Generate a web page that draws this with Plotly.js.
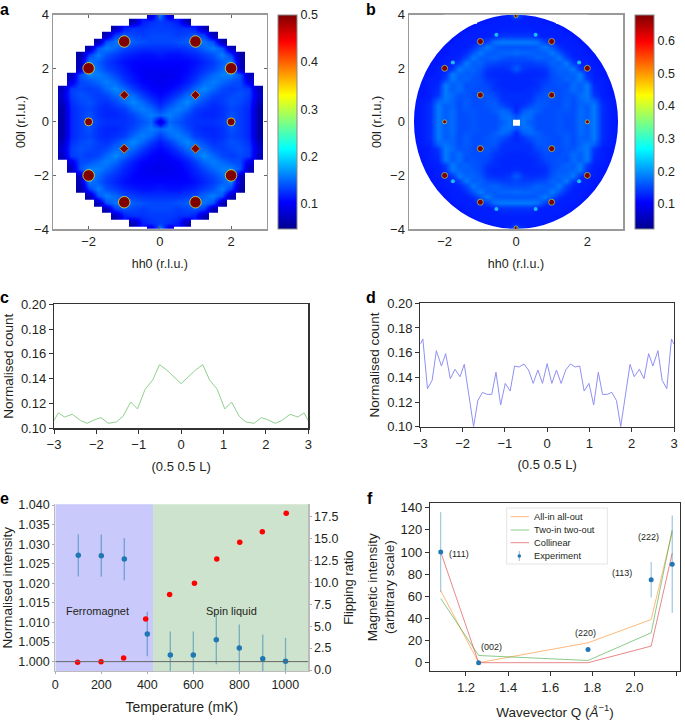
<!DOCTYPE html>
<html>
<head>
<meta charset="utf-8">
<script src="https://cdn.plot.ly/plotly-3.0.1.min.js"></script>
<style>
  html, body { margin: 0; padding: 0; background: #fff; }
  #chart { width: 685px; height: 720px; }
</style>
</head>
<body>
<div id="chart"></div>
<script>
const n = null;

// panel a: upper right quadrant, rows are 00l = 0 .. 4, columns are hh0 = 0 .. 3, step 0.25
const gridAH = [0, 0.25, 0.5, 0.75, 1, 1.25, 1.5, 1.75, 2, 2.25, 2.5, 2.75, 3];
const gridAL = [0, 0.25, 0.5, 0.75, 1, 1.25, 1.5, 1.75, 2, 2.25, 2.5, 2.75, 3, 3.25, 3.5, 3.75, 4];
const quadrantA = [
  [.08, .15, .14, .13, .125, .125, .125, .13, .14, .13, .12, .06],
  [.15, .16, .15, .135, .125, .12, .12, .125, .14, .13, .12, .06],
  [.13, .15, .16, .15, .13, .125, .12, .125, .135, .13, .12, .06],
  [.115, .13, .15, .165, .15, .135, .125, .13, .14, .135, .125, .07],
  [.105, .115, .13, .15, .16, .15, .135, .13, .135, .14, .13, .08],
  [.1, .105, .115, .13, .15, .165, .15, .135, .13, .135, .13, .07],
  [.095, .1, .105, .115, .13, .15, .16, .15, .14, .135, .09],
  [.095, .095, .1, .11, .12, .135, .15, .16, .16, .14, .07],
  [.1, .1, .1, .105, .115, .125, .135, .15, .17, .07],
  [.105, .105, .105, .105, .11, .12, .13, .145, .16, .07],
  [.115, .11, .11, .115, .12, .13, .14, .16, .13, .06],
  [.125, .125, .125, .13, .135, .15, .16, .14, .065],
  [.135, .135, .14, .145, .16, .155, .14, .065],
  [.135, .135, .13, .135, .14, .13, .065],
  [.13, .13, .125, .125, .115, .065],
  [.13, .125, .115, .065],
  [.16, .08],
];

// panel b: same idea, step 0.2. The last value of a row is the rim, it runs under the white mask
const gridBH = [0, 0.2, 0.4, 0.6, 0.8, 1, 1.2, 1.4, 1.6, 1.8, 2, 2.2, 2.4, 2.6, 2.8, 3];
const gridBL = [0, 0.2, 0.4, 0.6, 0.8, 1, 1.2, 1.4, 1.6, 1.8, 2, 2.2, 2.4, 2.6, 2.8, 3, 3.2, 3.4, 3.6, 3.8, 4];
const quadrantB = [
  [n, .18, .165, .155, .155, .155, .16, .155, .155, .175, .165, .185, .135, .125, .12, .12],
  [.16, .18, .175, .155, .155, .155, .16, .155, .155, .175, .165, .185, .135, .125, .12, .12],
  [.13, .165, .175, .165, .155, .155, .16, .16, .155, .175, .165, .185, .135, .125, .12, .12],
  [.13, .14, .155, .165, .16, .155, .155, .165, .155, .17, .165, .185, .135, .125, .12, .12],
  [.135, .135, .14, .16, .16, .155, .155, .165, .155, .17, .18, .17, .13, .125, .12, .12],
  [.135, .135, .135, .15, .16, .155, .155, .16, .16, .175, .185, .14, .125, .12, .12],
  [.13, .13, .135, .14, .155, .155, .155, .16, .175, .165, .185, .135, .125, .12, .12],
  [.13, .13, .13, .135, .15, .155, .16, .155, .175, .165, .185, .13, .125, .12, .12],
  [.13, .13, .13, .135, .14, .155, .16, .17, .165, .185, .145, .125, .125, .12, .12],
  [.135, .13, .13, .13, .135, .155, .165, .165, .17, .185, .135, .125, .12, .12],
  [.165, .14, .135, .135, .14, .16, .17, .17, .185, .14, .125, .125, .12, .12],
  [.15, .145, .145, .15, .155, .17, .165, .185, .145, .13, .125, .12, .12],
  [.155, .155, .16, .17, .165, .165, .185, .15, .13, .125, .125, .12, .12],
  [.175, .17, .17, .165, .165, .185, .16, .135, .125, .125, .12, .12],
  [.16, .16, .16, .165, .185, .16, .135, .125, .125, .125, .12, .12],
  [.185, .185, .185, .18, .145, .13, .125, .125, .125, .12, .12],
  [.14, .14, .14, .13, .125, .125, .125, .125, .12, .12],
  [.13, .13, .13, .125, .125, .125, .125, .12, .12],
  [.125, .125, .125, .125, .125, .125, .12, .12],
  [.13, .125, .125, .125, .12, .12],
  [.17, .13, .12, .12],
];
const rimHB = 2.86;
const rimLB = 4;

// Bragg peaks on the maps
const peaksA1H = [-2, 2, -2, 2, -1, 1, -1, 1];
const peaksA1L = [2, 2, -2, -2, 3, 3, -3, -3];
const peaksA2H = [-2, 2];
const peaksA2L = [0, 0];
const peaksA3H = [-1, 1, -1, 1];
const peaksA3L = [1, 1, -1, -1];
const peaksB1H = [-2, 2, -2, 2, -1, 1, -1, 1, -1, 1, -1, 1];
const peaksB1L = [2, 2, -2, -2, 3, 3, -3, -3, 1, 1, -1, -1];
const peaksB2H = [-2, 2, 0, 0];
const peaksB2L = [0, 0, 3.96, -3.96];
const peaksB3H = [-0.55, 0.55, -0.55, 0.55, -1.77, 1.77, -1.77, 1.77];
const peaksB3L = [3.25, 3.25, -3.25, -3.25, 2.22, 2.22, -2.22, -2.22];

// panels c and d: half profile, mirrored about L = 0
const halfLC = [-3, -2.9, -2.75, -2.57, -2.37, -2.22, -2.04, -1.89, -1.72, -1.53, -1.37, -1.19, -1.03, -0.85, -0.67, -0.51, -0.34, 0];
const halfCountC = [.1062, .1124, .1091, .1113, .1062, .104, .107, .1086, .104, .1051, .1097, .1212, .1156, .1315, .139, .1513, .147, .136];
const halfLD = [-3, -2.94, -2.83, -2.72, -2.62, -2.5, -2.4, -2.29, -2.18, -2.06, -1.96, -1.74, -1.64, -1.53, -1.42, -1.31, -1.21, -1.1, -0.99, -0.875, -0.77, -0.66, -0.55, -0.44, -0.33, -0.22, -0.11, 0];
const halfCountD = [.1668, .1711, .1308, .1376, .1616, .1492, .1592, .1389, .1465, .1405, .1505, .1, .1211, .1278, .1262, .1262, .1441, .1176, .1351, .1289, .1492, .1484, .1508, .1459, .1351, .1459, .1351, .1511];

// panel e
const tempIntensity = [100, 200, 300, 400, 500, 600, 700, 800, 902, 1001];
const intensity = [1.02715, 1.02706, 1.02621, 1.00706, 1.0017, 1.0017, 1.0056, 1.0035, 1.0007, 1.0001];
const intensityErr = [.0054, .0054, .0054, .0057, .006, .006, .0063, .006, .0062, .006];
const tempFlip = [97, 199, 297, 393, 497, 605, 702, 802, 900, 1004];
const flipping = [.87, .95, 1.37, 5.82, 8.6, 9.9, 12.65, 14.56, 15.77, 17.87];
const phaseBoundary = 425;

// panel f
const wavevector = [1.08, 1.26, 1.78, 2.08, 2.18];
const allInAllOut = [65, 0, 18, 39, 118];
const twoInTwoOut = [58, 6.5, 2, 27, 120];
const collinear = [100, 0, 0, 15, 99];
const experiment = [100, 0, 12, 75, 89];
const experimentErr = [36, 0, 0, 16, 44];
const reflexLabels = ["(111)", "(002)", "(220)", "(113)", "(222)"];
const reflexQ = [1.168, 1.322, 1.77, 1.943, 2.067];
const reflexI = [98, 14, 26.5, 81, 113.5];
const legendNames = ["All-in all-out", "Two-in two-out", "Collinear", "Experiment"];
const legendRows = [516.7, 530, 542.7, 556];

const jet = [[0, "#00008f"], [0.125, "#0000ff"], [0.375, "#00ffff"], [0.625, "#ffff00"], [0.875, "#ff0000"], [1, "#800000"]];
const textColor = "#231f20";
const orangeLine = "rgba(255,127,14,0.55)";
const greenLine = "rgba(44,160,44,0.55)";
const redLine = "rgba(214,39,40,0.55)";
const W = 685;
const H = 720;


function mirrorAxis(values) {
  return [...values.slice(1).reverse().map((v) => -v), ...values];
}


function mirrorGrid(rows, nCols) {
  const full = rows.map((row) => {
    const padded = [...row, ...new Array(nCols - row.length).fill(null)];
    return [...padded.slice(1).reverse(), ...padded];
  });
  return [...full.slice(1).reverse(), ...full];
}


function peakTrace(xa, ya, hh, ll, size, symbol, rim, rimWidth) {
  return {
    type: "scatter", mode: "markers", xaxis: xa, yaxis: ya, x: hh, y: ll, showlegend: false,
    marker: { size, symbol, color: "#800000", line: { color: rim, width: rimWidth } },
  };
}


function mapTrace(xa, ya, hh, ll, z, zmin, zmax, tickvals, barLeft) {
  return {
    type: "heatmap", xaxis: xa, yaxis: ya, zsmooth: "best", showlegend: false,
    x: mirrorAxis(hh), y: mirrorAxis(ll), z,
    zmin, zmax, colorscale: jet,
    colorbar: {
      x: barLeft / W, xanchor: "left", y: 1 - 14.7 / H, yanchor: "top", xpad: 0, ypad: 0,
      len: 214, lenmode: "pixels", thickness: 19, thicknessmode: "pixels",
      outlinecolor: "#8a8a8a", outlinewidth: 1, tickvals, ticktext: tickvals.map(String), ticks: "",
      tickfont: { size: 12.5, color: textColor },
    },
  };
}


function dom(a, b) {
  return [a / W, b / W];
}


function yDom(top, bottom) {
  return [1 - bottom / H, 1 - top / H];
}


const traces = [
  mapTrace("x", "y", gridAH, gridAL, mirrorGrid(quadrantA, gridAH.length), 0.047, 0.5, [0.1, 0.2, 0.3, 0.4, 0.5], 278),
  peakTrace("x", "y", peaksA1H, peaksA1L, 11.5, "circle", "#d8e840", 0.8),
  peakTrace("x", "y", peaksA2H, peaksA2L, 8, "circle", "#d8e840", 0.8),
  peakTrace("x", "y", peaksA3H, peaksA3L, 7, "diamond", "#e8a020", 0.8),
  mapTrace("x2", "y2", gridBH, gridBL, mirrorGrid(quadrantB, gridBH.length), 0.0235, 0.68, [0.1, 0.2, 0.3, 0.4, 0.5, 0.6], 635),
  peakTrace("x2", "y2", peaksB1H, peaksB1L, 6, "circle", "#a8d860", 0.7),
  peakTrace("x2", "y2", peaksB2H, peaksB2L, 4, "circle", "#b8d850", 0.7),
  {
    type: "scatter", mode: "markers", xaxis: "x2", yaxis: "y2", x: peaksB3H, y: peaksB3L, showlegend: false,
    marker: { size: 4, color: "#1cc0f0" },
  },
  {
    type: "scatter", mode: "lines", xaxis: "x3", yaxis: "y3", showlegend: false,
    x: [...halfLC, ...halfLC.slice(0, -1).reverse().map((v) => -v)],
    y: [...halfCountC, ...halfCountC.slice(0, -1).reverse()],
    line: { color: "#8fd08f", width: 1 },
  },
  {
    type: "scatter", mode: "lines", xaxis: "x4", yaxis: "y4", showlegend: false,
    x: [...halfLD, ...halfLD.slice(0, -1).reverse().map((v) => -v)],
    y: [...halfCountD, ...halfCountD.slice(0, -1).reverse()],
    line: { color: "#8f8ff5", width: 1 },
  },
  {
    type: "scatter", mode: "markers", xaxis: "x5", yaxis: "y5", showlegend: false,
    x: tempIntensity, y: intensity,
    error_y: { type: "data", array: intensityErr, color: "rgba(31,119,180,0.5)", thickness: 1.3, width: 0 },
    marker: { size: 5.5, color: "#1f77b4" },
  },
  {
    type: "scatter", mode: "markers", xaxis: "x5", yaxis: "y7", showlegend: false,
    x: tempFlip, y: flipping,
    marker: { size: 5.5, color: "#ff0000" },
  },
  {
    type: "scatter", mode: "lines", xaxis: "x6", yaxis: "y6", showlegend: false, name: legendNames[0],
    x: wavevector, y: allInAllOut, line: { color: orangeLine, width: 1 },
  },
  {
    type: "scatter", mode: "lines", xaxis: "x6", yaxis: "y6", showlegend: false, name: legendNames[1],
    x: wavevector, y: twoInTwoOut, line: { color: greenLine, width: 1 },
  },
  {
    type: "scatter", mode: "lines", xaxis: "x6", yaxis: "y6", showlegend: false, name: legendNames[2],
    x: wavevector, y: collinear, line: { color: redLine, width: 1 },
  },
  {
    type: "scatter", mode: "markers", xaxis: "x6", yaxis: "y6", showlegend: false, name: legendNames[3],
    x: wavevector, y: experiment,
    error_y: { type: "data", array: experimentErr, color: "rgba(31,119,180,0.5)", thickness: 1, width: 0 },
    marker: { size: 5, color: "#1f77b4" },
  },
];

function mapAxis(extra) {
  return {
    ticks: "inside", ticklen: 3, tickcolor: "#666", tickwidth: 1, mirror: "allticks",
    showline: true, linecolor: "#999", linewidth: 1.5, showgrid: false, zeroline: false,
    tickfont: { size: 13, color: textColor }, ...extra,
  };
}

function cutAxis(extra) {
  return {
    ticks: "outside", ticklen: 4, tickcolor: "#333", tickwidth: 1, mirror: true,
    showline: true, linecolor: "#333", linewidth: 1.2, showgrid: false, zeroline: false,
    tickfont: { size: 13, color: textColor }, ...extra,
  };
}

function axisTitle(text, size, standoff) {
  return { text, font: { size, color: textColor }, standoff };
}

const softFrame = { mirror: false, linecolor: "#bbb", tickcolor: "#aaa", ticklen: 2 };
const softTicks = { tickfont: { size: 12.5, color: textColor } };

const letters = [["a", 1, 9.5], ["b", 367, 9.5], ["c", 1, 297], ["d", 367, 297], ["e", 1, 498.5], ["f", 368, 498.5]];
const annotations = letters.map(([text, x, y]) => ({
  text: `<b>${text}</b>`, xref: "paper", yref: "paper", x: x / W, y: 1 - y / H, xanchor: "left", yanchor: "middle",
  xshift: -3, showarrow: false, font: { size: 16, color: "#000" },
}));

reflexLabels.forEach((text, i) => {
  annotations.push({
    text, xref: "x6", yref: "y6", x: reflexQ[i], y: reflexI[i], showarrow: false,
    font: { size: 9, color: textColor },
  });
});
legendNames.forEach((text, i) => {
  annotations.push({
    text, xref: "paper", yref: "paper", x: 532 / W, y: 1 - legendRows[i] / H, xanchor: "left", yanchor: "middle",
    showarrow: false, font: { size: 9.3, color: textColor },
  });
});
annotations.push(
  { text: "Ferromagnet", xref: "x5", yref: "y5", x: 182, y: 1.0129, showarrow: false, font: { size: 11, color: textColor } },
  { text: "Spin liquid", xref: "x5", yref: "y5", x: 766, y: 1.0129, showarrow: false, font: { size: 11, color: textColor } },
);

function legendLine(row, color) {
  return {
    type: "line", xref: "paper", yref: "paper", x0: 510.7 / W, x1: 529 / W,
    y0: 1 - legendRows[row] / H, y1: 1 - legendRows[row] / H, line: { color, width: 1 },
  };
}

const bandBottom = yDom(504.3, 671)[0];
const bandTop = yDom(504.3, 671)[1];
// white stroke trims the stepped rim of map b to the round edge, 12 px is half the stroke
const maskHB = rimHB + 12 / 35.6;
const maskLB = rimLB + 12 / 26.7;

const layout = {
  width: W, height: H, margin: { l: 0, r: 0, t: 0, b: 0 },
  paper_bgcolor: "#fff", plot_bgcolor: "#fff", hovermode: false, showlegend: false,
  font: { family: "Liberation Sans, Arial, sans-serif", color: textColor, size: 12 },
  annotations,
  xaxis: mapAxis({ domain: dom(53, 266.7), range: [-3, 3], tickvals: [-2, 0, 2], anchor: "y", title: axisTitle("hh0 (r.l.u.)", 12.5, 11) }),
  yaxis: mapAxis({ domain: yDom(14.7, 229), range: [-4, 4], tickvals: [-4, -2, 0, 2, 4], anchor: "x", title: axisTitle("00l (r.l.u.)", 12.5, 5) }),
  xaxis2: mapAxis({ domain: dom(409, 623), range: [-3, 3], tickvals: [-2, 0, 2], anchor: "y2", title: axisTitle("hh0 (r.l.u.)", 12.5, 11) }),
  yaxis2: mapAxis({ domain: yDom(14.7, 229), range: [-4, 4], tickvals: [-4, -2, 0, 2, 4], anchor: "x2", title: axisTitle("00l (r.l.u.)", 12.5, 5) }),
  xaxis3: cutAxis({ domain: dom(54, 308.3), range: [-3, 3], dtick: 1, anchor: "y3", title: axisTitle("(0.5 0.5 L)", 13, 10) }),
  yaxis3: cutAxis({ domain: yDom(304.3, 428.3), range: [0.1, 0.2], dtick: 0.02, tickformat: ".2f", anchor: "x3", title: axisTitle("Normalised count", 13.5, 4) }),
  xaxis4: cutAxis({ domain: dom(420.3, 674), range: [-3, 3], dtick: 1, anchor: "y4", title: axisTitle("(0.5 0.5 L)", 13, 10) }),
  yaxis4: cutAxis({ domain: yDom(303.3, 426.7), range: [0.1, 0.2], dtick: 0.02, tickformat: ".2f", anchor: "x4", title: axisTitle("Normalised count", 13.5, 4) }),
  xaxis5: cutAxis({ domain: dom(55.3, 308.3), range: [0, 1100], tickvals: [0, 200, 400, 600, 800, 1000], anchor: "y5", ...softFrame, ...softTicks, title: axisTitle("Temperature (mK)", 14, 11) }),
  yaxis5: cutAxis({ domain: yDom(504.3, 671), range: [0.9976, 1.0402], dtick: 0.005, tick0: 1, tickformat: ".3f", anchor: "x5", ...softFrame, ...softTicks, title: axisTitle("Normalised intensity", 13.5, 5) }),
  yaxis7: cutAxis({ domain: yDom(504.3, 671), range: [-0.114, 18.9], tickvals: [0, 2.5, 5, 7.5, 10, 12.5, 15, 17.5], tickformat: ".1f", overlaying: "y5", side: "right", anchor: "x5", ...softFrame, ...softTicks, title: axisTitle("Flipping ratio", 13, 6) }),
  xaxis6: cutAxis({ domain: dom(430, 680), range: [1.029, 2.217], tickvals: [1.2, 1.4, 1.6, 1.8, 2.0, 2.2], tickformat: ".1f", anchor: "y6", title: axisTitle("Wavevector Q (<i>Å</i><sup>−1</sup>)", 13.5, 16) }),
  yaxis6: cutAxis({ domain: yDom(503.3, 671), range: [-7.5, 144], dtick: 20, anchor: "x6", title: axisTitle("Magnetic intensity<br>(arbitrary scale)", 13.5, 2) }),
  shapes: [
    { type: "circle", xref: "x2", yref: "y2", x0: -maskHB, x1: maskHB, y0: -maskLB, y1: maskLB, line: { color: "#fff", width: 24 } },
    { type: "rect", xref: "x5", yref: "paper", x0: 0, x1: phaseBoundary, y0: bandBottom, y1: bandTop, fillcolor: "#c9c9fb", line: { width: 0 }, layer: "below" },
    { type: "rect", xref: "x5", yref: "paper", x0: phaseBoundary, x1: 1100, y0: bandBottom, y1: bandTop, fillcolor: "#cde3cd", line: { width: 0 }, layer: "below" },
    { type: "line", xref: "x5", yref: "y5", x0: 0, x1: 1100, y0: 1, y1: 1, line: { color: "#666", width: 1 } },
    // hand drawn legend, plotly's own rows are too tall for this box
    { type: "rect", xref: "paper", yref: "paper", x0: 506.7 / W, x1: 607.3 / W, y0: 1 - 564 / H, y1: 1 - 508 / H, fillcolor: "#fff", line: { color: "#e4e4e4", width: 1 } },
    legendLine(0, orangeLine),
    legendLine(1, greenLine),
    legendLine(2, redLine),
    { type: "line", xref: "paper", yref: "paper", x0: 519.3 / W, x1: 519.3 / W, y0: 1 - 561 / H, y1: 1 - 551 / H, line: { color: "rgba(31,119,180,0.5)", width: 1 } },
    { type: "circle", xref: "paper", yref: "paper", x0: 517.5 / W, x1: 521.1 / W, y0: 1 - 557.8 / H, y1: 1 - 554.2 / H, fillcolor: "#1f77b4", line: { width: 0 } },
  ],
};

Plotly.newPlot("chart", traces, layout, { staticPlot: true, displayModeBar: false });
</script>
</body>
</html>
